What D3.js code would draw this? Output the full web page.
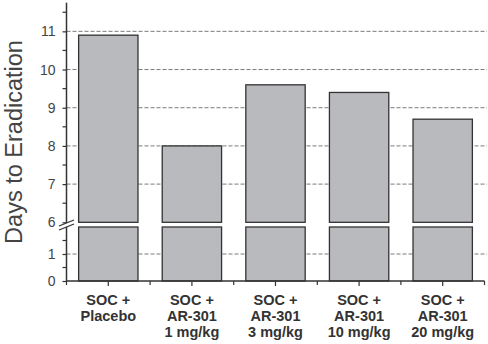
<!DOCTYPE html>
<html>
<head>
<meta charset="utf-8">
<script src="https://cdn.jsdelivr.net/npm/d3@7"></script>
<style>
  html, body { margin: 0; padding: 0; background: #fff; }
  svg { display: block; }
</style>
</head>
<body>
<svg id="chart" width="488" height="344"></svg>
<script>
// Treatment groups (each label is split into lines under the axis)
const groups = ["placebo", "ar1", "ar3", "ar10", "ar20"];
const groupLabels = [
  ["SOC +", "Placebo"],
  ["SOC +", "AR-301", "1 mg/kg"],
  ["SOC +", "AR-301", "3 mg/kg"],
  ["SOC +", "AR-301", "10 mg/kg"],
  ["SOC +", "AR-301", "20 mg/kg"]
];
// Mean days to eradication per group
const daysToEradication = [10.9, 8.0, 9.6, 9.4, 8.7];

// Broken y axis: lower segment 0–2, upper segment 6–11.75
const upperTicks = [6, 7, 8, 9, 10, 11];
const upperMinor = [6.5, 7.5, 8.5, 9.5, 10.5, 11.5];
const upperGrid = [7, 8, 9, 10, 11];
const lowerTicks = [0, 1];
const lowerMinor = [0.5, 1.5];
const lowerGrid = [1];

const svg = d3.select("#chart");
const axisX = 66.5, rightX = 484.5;
const ink = "#333";

const x = d3.scaleBand().domain(groups).range([axisX, rightX])
  .paddingInner(0.29).paddingOuter(0.145);
const yUp = d3.scaleLinear().domain([6, 11.75]).range([222.3, 2.7]);
const yLo = d3.scaleLinear().domain([0, 2]).range([281, 227]);

// dashed gridlines
const grid = svg.append("g").attr("stroke", "#7a7a7a").attr("stroke-width", 1)
  .attr("stroke-dasharray", "4,2");
upperGrid.forEach(v => grid.append("line")
  .attr("x1", axisX).attr("x2", 487).attr("y1", yUp(v)).attr("y2", yUp(v)));
lowerGrid.forEach(v => grid.append("line")
  .attr("x1", axisX).attr("x2", 487).attr("y1", yLo(v)).attr("y2", yLo(v)));

// bars, drawn as an upper and a lower piece across the break
const bars = svg.append("g").attr("fill", "#b9babe").attr("stroke", ink).attr("stroke-width", 1.3);
groups.forEach((g, i) => {
  const v = daysToEradication[i];
  bars.append("rect").attr("x", x(g)).attr("width", x.bandwidth())
    .attr("y", yUp(v)).attr("height", yUp(6) - yUp(v));
  bars.append("rect").attr("x", x(g)).attr("width", x.bandwidth())
    .attr("y", yLo(2)).attr("height", yLo(0) - yLo(2));
});

// y axis segments
const yAxisUp = d3.axisLeft(yUp).tickValues(upperTicks).tickSize(4).tickFormat(d3.format("d")).tickSizeOuter(0);
const yAxisLo = d3.axisLeft(yLo).tickValues(lowerTicks).tickSize(4).tickFormat(d3.format("d")).tickSizeOuter(0);
function styleAxis(g) {
  g.select(".domain").remove();
  g.selectAll("line").attr("stroke", ink).attr("stroke-width", 1.2);
  g.selectAll("text").attr("fill", "#444").attr("font-size", 14)
    .attr("font-family", "Liberation Sans, Arial, sans-serif").attr("x", -11);
}
svg.append("g").attr("transform", `translate(${axisX},0)`).call(yAxisUp).call(styleAxis);
svg.append("g").attr("transform", `translate(${axisX},0)`).call(yAxisLo).call(styleAxis);

const minor = svg.append("g").attr("stroke", ink).attr("stroke-width", 1.2);
upperMinor.forEach(v => minor.append("line").attr("x1", axisX - 4).attr("x2", axisX).attr("y1", yUp(v)).attr("y2", yUp(v)));
lowerMinor.forEach(v => minor.append("line").attr("x1", axisX - 4).attr("x2", axisX).attr("y1", yLo(v)).attr("y2", yLo(v)));

svg.append("line").attr("x1", axisX).attr("x2", axisX).attr("y1", yUp.range()[1]).attr("y2", 223.5)
  .attr("stroke", ink).attr("stroke-width", 1.5);
svg.append("line").attr("x1", axisX).attr("x2", axisX).attr("y1", 226.5).attr("y2", yLo(0))
  .attr("stroke", ink).attr("stroke-width", 1.5);

// break marks
svg.append("polygon").attr("points", "59,226 74,220 74,224 59,230").attr("fill", "#fff");
[[226, 220], [230, 224]].forEach(([a, b]) => svg.append("line")
  .attr("x1", 59).attr("y1", a).attr("x2", 74).attr("y2", b)
  .attr("stroke", ink).attr("stroke-width", 1.2));

// x axis baseline and ticks
svg.append("line").attr("x1", axisX).attr("x2", rightX).attr("y1", yLo(0)).attr("y2", yLo(0))
  .attr("stroke", ink).attr("stroke-width", 1.5);
const xt = svg.append("g").attr("stroke", ink).attr("stroke-width", 1.2);
groups.forEach((g, i) => {
  const c = x(g) + x.bandwidth() / 2;
  xt.append("line").attr("x1", c).attr("x2", c).attr("y1", yLo(0)).attr("y2", yLo(0) + 5);
});
d3.range(groups.length + 1).forEach(i => {
  const b = axisX + i * x.step();
  xt.append("line").attr("x1", b).attr("x2", b).attr("y1", yLo(0)).attr("y2", yLo(0) + 4);
});

// category labels
const lab = svg.append("g").attr("font-family", "Liberation Sans, Arial, sans-serif")
  .attr("font-weight", "bold").attr("font-size", 14.5).attr("fill", "#333")
  .attr("text-anchor", "middle");
groups.forEach((g, i) => {
  const c = x(g) + x.bandwidth() / 2;
  groupLabels[i].forEach((t, j) => lab.append("text").attr("x", c).attr("y", 305 + j * 16).text(t));
});

// y axis title
svg.append("text").attr("transform", "translate(22,142) rotate(-90)")
  .attr("text-anchor", "middle").attr("font-family", "Liberation Sans, Arial, sans-serif")
  .attr("font-size", 23.5).attr("fill", "#444").text("Days to Eradication");
</script>
</body>
</html>
